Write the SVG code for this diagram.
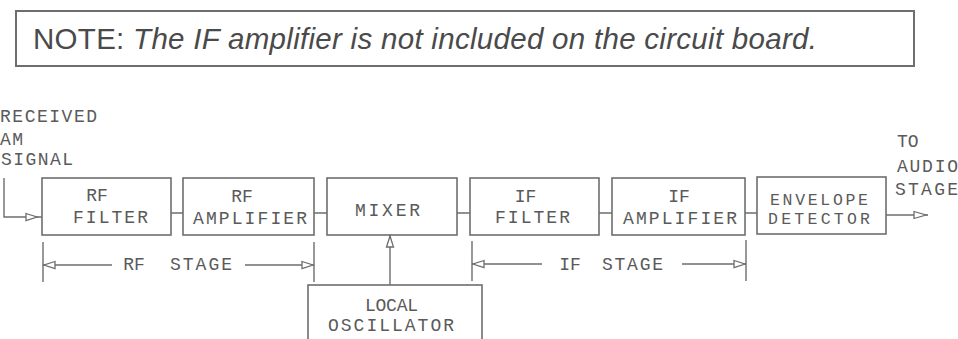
<svg xmlns="http://www.w3.org/2000/svg" width="958" height="339" viewBox="0 0 958 339">
<defs>
<style>
.box{fill:#fff;stroke:#6e6e6e;stroke-width:1.6}
.ln{fill:none;stroke:#6e6e6e;stroke-width:1.4}
.ah{fill:#fff;stroke:#6e6e6e;stroke-width:1.3}
.t{font-family:"Liberation Mono","DejaVu Sans Mono",monospace;font-size:18px;fill:#5a5a5a}
.s{font-size:16.5px}
.c{text-anchor:middle}
.note{font-family:"Liberation Sans",Arial,sans-serif;font-size:29.5px;fill:#4a4a4a}
</style>
</defs>
<rect width="958" height="339" fill="#fff"/>
<g id="note">
<rect x="16" y="11" width="898" height="55" fill="none" stroke="#6e6e6e" stroke-width="2"/>
<text class="note" x="33" y="48.5" textLength="784">NOTE: <tspan font-style="italic">The IF amplifier is not included on the circuit board.</tspan></text>
</g>
<g id="input-label">
<text class="t" x="0" y="122" textLength="97">RECEIVED</text>
<text class="t" x="0" y="145" textLength="23">AM</text>
<text class="t" x="1" y="165" textLength="72">SIGNAL</text>
</g>
<g id="output-label">
<text class="t" x="897" y="147">TO</text>
<text class="t" x="897" y="172" textLength="61">AUDIO</text>
<text class="t" x="895" y="195" textLength="63">STAGE</text>
</g>
<g id="rf-filter">
<rect class="box" x="42" y="178" width="129" height="57"/>
<text class="t c" x="97" y="201">RF</text>
<text class="t c" x="110.5" y="223" textLength="75">FILTER</text>
</g>
<g id="rf-amplifier">
<rect class="box" x="183" y="178" width="131" height="57"/>
<text class="t c" x="242" y="202">RF</text>
<text class="t c" x="250" y="224" textLength="114">AMPLIFIER</text>
</g>
<g id="mixer">
<rect class="box" x="327" y="178" width="130" height="57"/>
<text class="t c" x="387.5" y="216" textLength="65">MIXER</text>
</g>
<g id="if-filter">
<rect class="box" x="470" y="178" width="129" height="57"/>
<text class="t c" x="525.5" y="202">IF</text>
<text class="t c" x="532.5" y="223" textLength="75">FILTER</text>
</g>
<g id="if-amplifier">
<rect class="box" x="612" y="178" width="133" height="57"/>
<text class="t c" x="679" y="202">IF</text>
<text class="t c" x="680" y="224" textLength="114">AMPLIFIER</text>
</g>
<g id="envelope-detector">
<rect class="box" x="757" y="177" width="129" height="57"/>
<text class="t s c" x="819" y="205" textLength="98">ENVELOPE</text>
<text class="t s c" x="819" y="223.5" textLength="102">DETECTOR</text>
</g>
<g id="local-oscillator">
<rect class="box" x="308" y="285" width="174" height="60"/>
<text class="t c" x="391.5" y="311" textLength="53">LOCAL</text>
<text class="t c" x="391" y="331" textLength="126">OSCILLATOR</text>
</g>
<g id="rf-stage">
<text class="t c" x="134" y="270">RF</text>
<text class="t c" x="201" y="270" textLength="62">STAGE</text>
</g>
<g id="if-stage">
<text class="t c" x="570" y="270">IF</text>
<text class="t c" x="632.5" y="270" textLength="61">STAGE</text>
</g>
<g id="connectors">
<path class="ln" d="M4,178 V217 H42"/>
<polygon class="ah" points="26,213.5 37,217 26,220.5"/>
<path class="ln" d="M171,213 H183 M314,213 H327 M457,213 H470 M599,213 H612 M745,213 H757"/>
<path class="ln" d="M886,215 H928"/>
<polygon class="ah" points="914,211.5 926,215 914,218.5"/>
<path class="ln" d="M390,285 V235"/>
<polygon class="ah" points="386.5,247 390,236 393.5,247"/>
<path class="ln" d="M43,242 V282 M43,265 H112 M245,265 H314 M314,242 V282"/>
<polygon class="ah" points="55,261.5 44,265 55,268.5"/>
<polygon class="ah" points="302,261.5 313,265 302,268.5"/>
<path class="ln" d="M472,241 V281 M472,264 H542 M682,264 H746 M746,240 V281"/>
<polygon class="ah" points="484,260.5 473,264 484,267.5"/>
<polygon class="ah" points="734,260.5 745,264 734,267.5"/>
</g>
</svg>
